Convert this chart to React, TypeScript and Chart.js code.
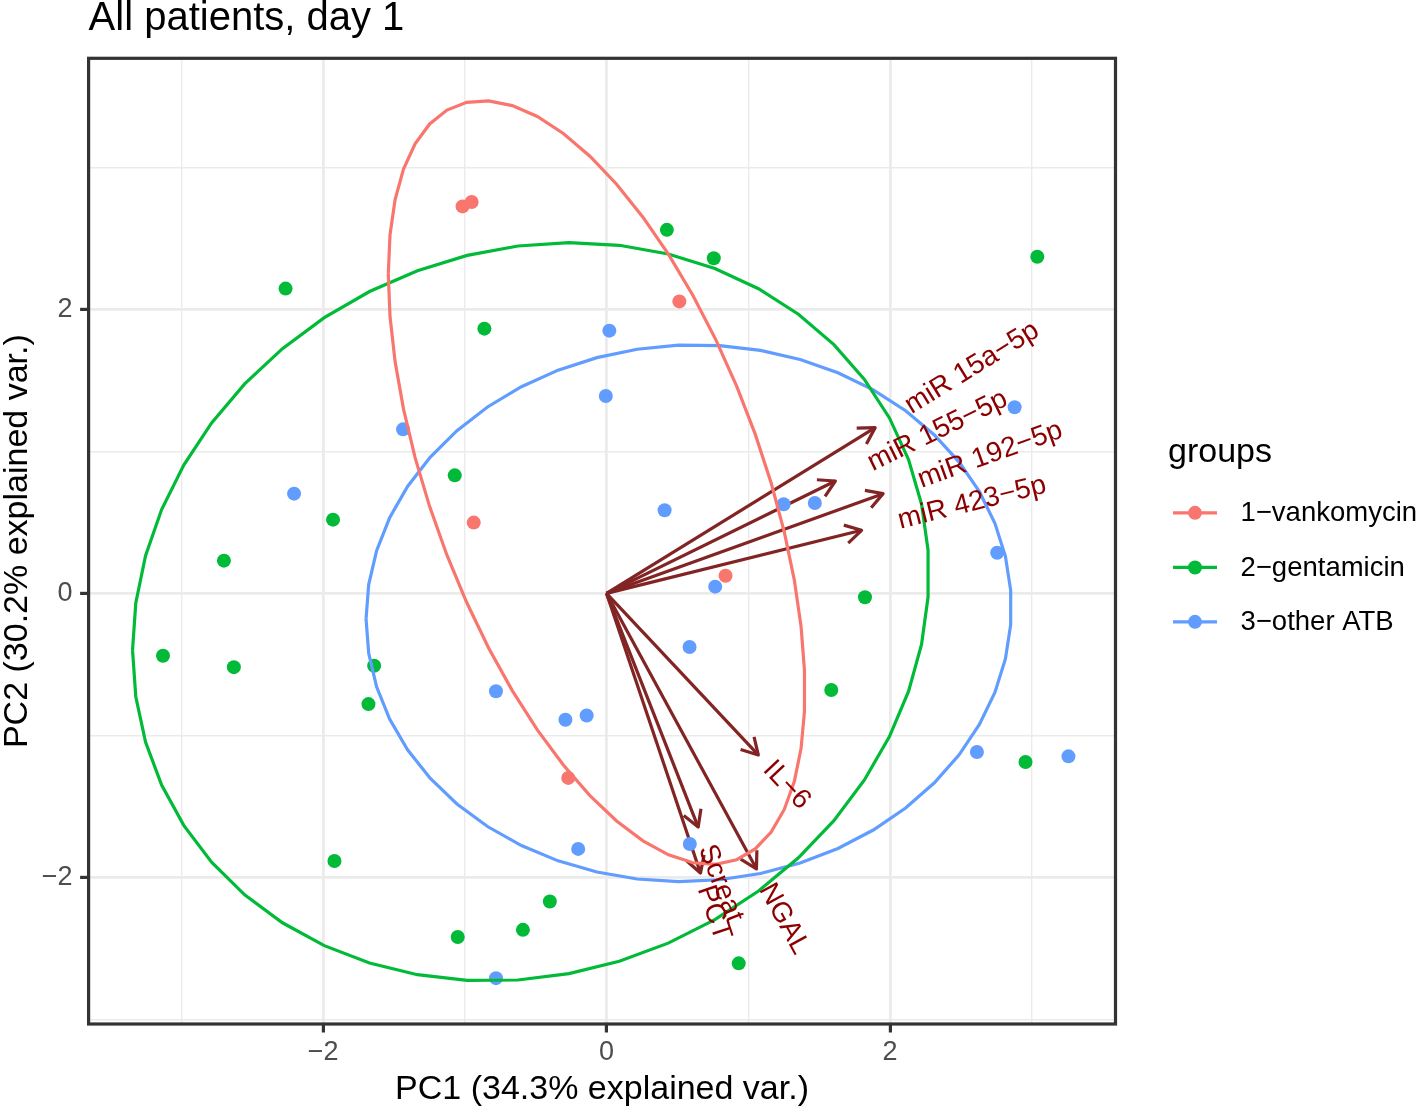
import React, { useEffect, useRef } from 'react';
import { Chart, registerables } from 'chart.js';

Chart.register(...registerables);

// ---------- data ----------
const plotTitle = 'All patients, day 1';
const xAxisTitle = 'PC1 (34.3% explained var.)';
const yAxisTitle = 'PC2 (30.2% explained var.)';
const legendTitle = 'groups';

const groupNames = ['1\u2212vankomycin', '2\u2212gentamicin', '3\u2212other ATB'];
const groupColors = ['#F8766D', '#00BA38', '#619CFF'];

const vankomycinX = [-1.016, -0.952, 0.514, -0.937, 0.84, -0.27];
const vankomycinY = [2.725, 2.756, 2.056, 0.498, 0.124, -1.3];

const gentamicinX = [-2.265, -0.862, 0.426, 0.757, 3.04, -1.071, -1.93, -2.7, -3.13, -2.63,
  -1.64, -1.68, 1.824, 1.586, 2.957, -1.92, -0.4, -0.59, -1.05, 0.933];
const gentamicinY = [2.146, 1.864, 2.56, 2.36, 2.37, 0.831, 0.519, 0.23, -0.44, -0.52,
  -0.51, -0.78, -0.028, -0.681, -1.188, -1.885, -2.17, -2.37, -2.42, -2.606];

const otherX = [0.02, -0.005, -1.436, -2.205, 0.41, 1.25, 1.47, 2.88, 2.757, 0.767,
  0.586, -0.78, -0.29, -0.14, 2.614, 3.26, 0.588, -0.2, -0.78];
const otherY = [1.85, 1.39, 1.155, 0.702, 0.585, 0.627, 0.636, 1.31, 0.286, 0.047,
  -0.378, -0.69, -0.89, -0.86, -1.117, -1.148, -1.765, -1.8, -2.71];

const loadingNames = ['miR 15a\u22125p', 'miR 155\u22125p', 'miR 192\u22125p', 'miR 423\u22125p',
  'IL\u22126', 'Screat', 'PCT', 'NGAL'];
const loadingX = [1.896, 1.615, 1.952, 1.8, 1.071, 0.647, 0.663, 1.058];
const loadingY = [1.167, 0.791, 0.702, 0.444, -1.138, -1.646, -1.97, -1.94];

// normal-probability ellipses (centre, half extents, shear) per group
const ellipseCenterX = [-0.07, -0.535, 0.58];
const ellipseCenterY = [0.78, -0.13, -0.14];
const ellipseHalfWidth = [1.47, 2.81, 2.277];
const ellipseHalfHeight = [2.69, 2.6, 1.89];
const ellipseShear = [-1.47, 0.27, 0.04];

const xBreaks = [-3, -2, -1, 0, 1, 2, 3];
const yBreaks = [-3, -2, -1, 0, 1, 2, 3];
const majorBreaks = [-2, 0, 2];
const xLimits = [-3.655, 3.592];
const yLimits = [-3.033, 3.768];

// ---------- styling ----------
const FONT = "'Liberation Sans', Arial, Helvetica, sans-serif";
const ARROW_COLOR = '#832424';
const LABEL_COLOR = '#8B0000';
const LINE_W = 3.2;
const POINT_R = 7;

const fmt = (v: number) => (v < 0 ? '\u2212' + Math.abs(v) : String(v));

function ellipsePath(g: number) {
  const pts: { x: number; y: number }[] = [];
  const hw = ellipseHalfWidth[g];
  const hh = ellipseHalfHeight[g];
  const k = ellipseShear[g];
  const m = Math.sqrt(hh * hh - k * k);
  const n = 50;
  for (let i = 0; i < n; i++) {
    const t = -Math.PI + (2 * Math.PI * i) / (n - 1);
    pts.push({
      x: ellipseCenterX[g] + hw * Math.cos(t),
      y: ellipseCenterY[g] + k * Math.cos(t) + m * Math.sin(t),
    });
  }
  return pts;
}

const zip = (xs: number[], ys: number[]) => xs.map((x, i) => ({ x, y: ys[i] }));

const groupPoints = [
  zip(vankomycinX, vankomycinY),
  zip(gentamicinX, gentamicinY),
  zip(otherX, otherY),
];

const ggPlugin = {
  id: 'ggExtras',
  afterDatasetDraw(chart: any, args: any) {
    const ds = chart.data.datasets[args.index];
    if (!ds.isArrow) return;
    const xs = chart.scales.x;
    const ys = chart.scales.y;
    const ox = xs.getPixelForValue(0);
    const oy = ys.getPixelForValue(0);
    const tx = xs.getPixelForValue(ds.data[1].x);
    const ty = ys.getPixelForValue(ds.data[1].y);
    const a = Math.atan2(ty - oy, tx - ox);
    const L = 18.5;
    const spread = Math.PI / 6;
    const ctx = chart.ctx;
    ctx.save();
    ctx.strokeStyle = ARROW_COLOR;
    ctx.lineWidth = LINE_W;
    ctx.lineJoin = 'round';
    ctx.beginPath();
    ctx.moveTo(tx - L * Math.cos(a - spread), ty - L * Math.sin(a - spread));
    ctx.lineTo(tx, ty);
    ctx.lineTo(tx - L * Math.cos(a + spread), ty - L * Math.sin(a + spread));
    ctx.stroke();
    ctx.restore();
  },
  afterDatasetsDraw(chart: any) {
    const xs = chart.scales.x;
    const ys = chart.scales.y;
    const ctx = chart.ctx;
    ctx.save();
    ctx.fillStyle = LABEL_COLOR;
    ctx.font = `28px ${FONT}`;
    ctx.textAlign = 'left';
    ctx.textBaseline = 'middle';
    loadingNames.forEach((name, i) => {
      const x = loadingX[i];
      const y = loadingY[i];
      const px = xs.getPixelForValue(x);
      const py = ys.getPixelForValue(y);
      const ang = Math.atan(y / x);
      const hjust = (1 - 1.5 * Math.sign(x)) / 2;
      const w = ctx.measureText(name).width;
      ctx.save();
      ctx.translate(px, py);
      ctx.rotate(-ang);
      ctx.fillText(name, -hjust * w, 0);
      ctx.restore();
    });
    ctx.restore();
  },
  afterDraw(chart: any) {
    const { ctx, chartArea } = chart;
    ctx.save();
    // panel border
    ctx.strokeStyle = '#333333';
    ctx.lineWidth = LINE_W;
    ctx.strokeRect(chartArea.left, chartArea.top, chartArea.right - chartArea.left, chartArea.bottom - chartArea.top);
    // title
    ctx.fillStyle = '#000000';
    ctx.font = `40px ${FONT}`;
    ctx.textAlign = 'left';
    ctx.textBaseline = 'alphabetic';
    ctx.fillText(plotTitle, chartArea.left, 30);
    // legend
    const lx = chartArea.right + 52.5;
    const mid = (chartArea.top + chartArea.bottom) / 2;
    ctx.font = `34px ${FONT}`;
    ctx.fillText(legendTitle, lx, mid - 79);
    const itemY = [mid - 28.3, mid + 26.3, mid + 80.7];
    groupNames.forEach((name, i) => {
      const y = itemY[i];
      ctx.strokeStyle = groupColors[i];
      ctx.lineWidth = LINE_W;
      ctx.beginPath();
      ctx.moveTo(lx + 5, y);
      ctx.lineTo(lx + 49, y);
      ctx.stroke();
      ctx.fillStyle = groupColors[i];
      ctx.beginPath();
      ctx.arc(lx + 27, y, POINT_R, 0, Math.PI * 2);
      ctx.fill();
      ctx.fillStyle = '#000000';
      ctx.font = `27.5px ${FONT}`;
      ctx.textBaseline = 'middle';
      ctx.fillText(name, lx + 72.5, y + 1);
    });
    ctx.restore();
  },
};

export default function App() {
  const canvasRef = useRef<HTMLCanvasElement | null>(null);

  useEffect(() => {
    if (!canvasRef.current) return;
    Chart.defaults.font.family = FONT;

    const arrowSets = loadingNames.map((name, i) => ({
      label: name,
      isArrow: true,
      data: [{ x: 0, y: 0 }, { x: loadingX[i], y: loadingY[i] }],
      showLine: true,
      borderColor: ARROW_COLOR,
      borderWidth: LINE_W,
      pointRadius: 0,
      fill: false,
      order: 3,
    }));
    const pointSets = groupNames.map((name, g) => ({
      label: name,
      data: groupPoints[g],
      showLine: false,
      pointRadius: POINT_R,
      pointBorderWidth: 0,
      backgroundColor: groupColors[g],
      borderColor: groupColors[g],
      order: 2,
    }));
    const ellipseSets = groupNames.map((name, g) => ({
      label: name + ' ellipse',
      data: ellipsePath(g),
      showLine: true,
      borderColor: groupColors[g],
      borderWidth: LINE_W,
      pointRadius: 0,
      fill: false,
      tension: 0,
      order: 1,
    }));

    const isMajor = (c: any) => c.tick && majorBreaks.includes(c.tick.value);

    const chart = new Chart(canvasRef.current, {
      type: 'scatter',
      data: { datasets: [...ellipseSets, ...pointSets, ...arrowSets] as any },
      options: {
        animation: false,
        responsive: false,
        devicePixelRatio: 1,
        layout: { padding: { left: 0, top: 58.3, right: 304.5, bottom: 0 } },
        plugins: { legend: { display: false }, tooltip: { enabled: false }, title: { display: false } },
        scales: {
          x: {
            type: 'linear',
            min: xLimits[0],
            max: xLimits[1],
            afterBuildTicks: (s: any) => { s.ticks = xBreaks.map((v) => ({ value: v })); },
            afterFit: (s: any) => { s.height = 84; },
            border: { display: false },
            grid: {
              color: '#EBEBEB',
              lineWidth: (c: any) => (isMajor(c) ? 2.8 : 1.4),
              tickColor: (c: any) => (isMajor(c) ? '#333333' : 'rgba(0,0,0,0)'),
              tickWidth: LINE_W,
              tickLength: 8.5,
            },
            ticks: {
              autoSkip: false,
              maxRotation: 0,
              color: '#4D4D4D',
              font: { size: 27, lineHeight: 1 },
              padding: 6.5,
              callback: (v: any) => (majorBreaks.includes(Number(v)) ? fmt(Number(v)) : ''),
            },
            title: {
              display: true,
              text: xAxisTitle,
              color: '#000000',
              font: { size: 34, lineHeight: 1 },
              padding: { top: 0, bottom: 1.5 },
            },
          },
          y: {
            type: 'linear',
            min: yLimits[0],
            max: yLimits[1],
            afterBuildTicks: (s: any) => { s.ticks = yBreaks.map((v) => ({ value: v })); },
            afterFit: (s: any) => { s.width = 88.6; },
            border: { display: false },
            grid: {
              color: '#EBEBEB',
              lineWidth: (c: any) => (isMajor(c) ? 2.8 : 1.4),
              tickColor: (c: any) => (isMajor(c) ? '#333333' : 'rgba(0,0,0,0)'),
              tickWidth: LINE_W,
              tickLength: 8.5,
            },
            ticks: {
              autoSkip: false,
              color: '#4D4D4D',
              font: { size: 27, lineHeight: 1 },
              padding: 7.5,
              callback: (v: any) => (majorBreaks.includes(Number(v)) ? fmt(Number(v)) : ''),
            },
            title: {
              display: true,
              text: yAxisTitle,
              color: '#000000',
              font: { size: 34, lineHeight: 1 },
              padding: { top: 0.5, bottom: 0 },
            },
          },
        },
      },
      plugins: [ggPlugin],
    } as any);

    return () => chart.destroy();
  }, []);

  return (
    <div style={{ position: 'absolute', left: 0, top: 0, width: 1420, height: 1108, background: '#ffffff' }}>
      <canvas ref={canvasRef} width={1420} height={1108} style={{ display: 'block', width: 1420, height: 1108 }} />
    </div>
  );
}
